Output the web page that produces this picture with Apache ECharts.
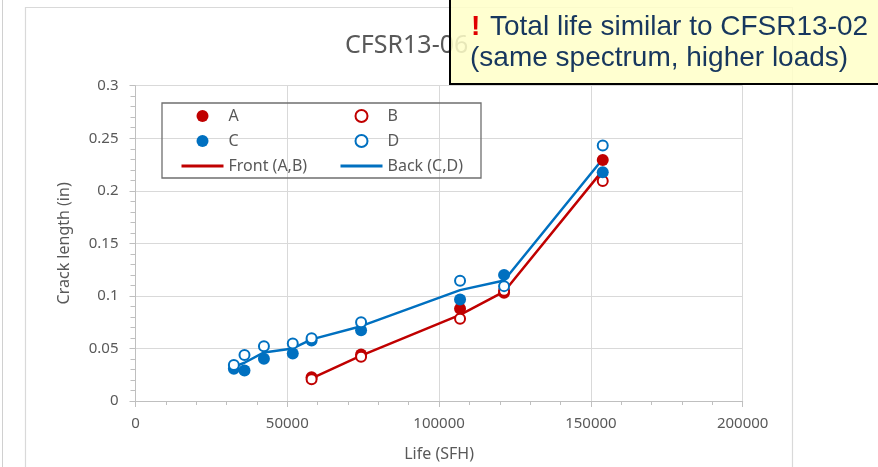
<!DOCTYPE html>
<html>
<head>
<meta charset="utf-8" />
<title>CFSR13-06</title>
<script src="https://cdn.jsdelivr.net/npm/echarts@6/dist/echarts.min.js"></script>
<style>
  html, body { margin: 0; padding: 0; background: #fff; }
  #main { width: 878px; height: 467px; }
</style>
</head>
<body>
<div id="main"></div>
<script>
// values
var lifeAB = [58000, 74300, 106900, 121400, 153900];
var crackA = [0.0225, 0.0443, 0.0877, 0.1030, 0.2294];
var crackB = [0.0207, 0.0421, 0.0782, 0.1050, 0.2094];
var lifeCD = [32400, 35900, 42300, 51800, 58000, 74300, 106900, 121400, 153900];
var crackC = [0.0307, 0.0291, 0.0402, 0.0453, 0.0575, 0.0674, 0.0965, 0.1200, 0.2177];
var crackD = [0.0342, 0.0437, 0.0522, 0.0548, 0.0598, 0.0750, 0.1145, 0.1093, 0.2430];
var frontLine = [0.0216, 0.0432, 0.0820, 0.1040, 0.2194];
var backLine = [0.0325, 0.0364, 0.0462, 0.0500, 0.0586, 0.0712, 0.1055, 0.1147, 0.2303];

var RED = '#C00000';
var BLUE = '#0070C0';
var FONT = 'Noto Sans';

function pairs(xs, ys) {
  var out = [];
  for (var i = 0; i < xs.length; i++) out.push([xs[i], ys[i]]);
  return out;
}

function dots(name, xs, ys, color, hollow) {
  return {
    name: name,
    type: 'scatter',
    z: 3,
    symbol: 'circle',
    symbolSize: hollow ? 10 : 12,
    itemStyle: hollow
      ? { color: '#fff', borderColor: color, borderWidth: 2, opacity: 1 }
      : { color: color, opacity: 1 },
    data: pairs(xs, ys)
  };
}

function trend(name, xs, ys, color) {
  return {
    name: name,
    type: 'line',
    z: 2,
    symbol: 'none',
    lineStyle: { color: color, width: 2.5 },
    itemStyle: { color: color },
    data: pairs(xs, ys)
  };
}

var myChart = echarts.init(document.getElementById('main'));
var legendBase = {
  orient: 'vertical',
  top: 108,
  padding: 0,
  itemWidth: 42,
  itemHeight: 12,
  itemGap: 9,
  symbolKeepAspect: true,
  textStyle: { color: '#595959', fontSize: 16, fontFamily: FONT, lineHeight: 16 }
};
var noDot = { opacity: 0 };

var option = {
  animation: false,
  textStyle: { fontFamily: FONT },
  title: {
    text: 'CFSR13-06',
    left: 345,
    top: 33,
    padding: 0,
    textStyle: { color: '#595959', fontSize: 25, fontWeight: 'normal', fontFamily: FONT }
  },
  legend: [
    Object.assign({}, legendBase, { left: 180, data: ['A', 'C', { name: 'Front (A,B)', itemStyle: noDot, lineStyle: { width: 3 } }] }),
    Object.assign({}, legendBase, { left: 339, data: ['B', 'D', { name: 'Back (C,D)', itemStyle: noDot, lineStyle: { width: 3 } }] })
  ],
  grid: { left: 135.5, top: 85.7, right: 135.3, bottom: 65.3 },
  xAxis: {
    type: 'value',
    min: 0,
    max: 200000,
    interval: 50000,
    name: 'Life (SFH)',
    nameLocation: 'middle',
    nameGap: 45,
    nameTextStyle: { color: '#595959', fontSize: 16, fontFamily: FONT },
    axisLine: { show: true, lineStyle: { color: '#BFBFBF', width: 1 } },
    axisTick: { show: true, length: 6, lineStyle: { color: '#BFBFBF' } },
    minorTick: { show: true, splitNumber: 5, length: 4, lineStyle: { color: '#BFBFBF' } },
    splitLine: { show: true, lineStyle: { color: '#D9D9D9', width: 1 } },
    axisLabel: {
      color: '#595959', fontSize: 15, margin: 15, fontFamily: FONT,
      formatter: function (v) { return String(v); }
    }
  },
  yAxis: {
    type: 'value',
    min: 0,
    max: 0.3,
    interval: 0.05,
    name: 'Crack length (in)',
    nameLocation: 'middle',
    nameGap: 63,
    nameTextStyle: { color: '#595959', fontSize: 16, fontFamily: FONT },
    axisLine: { show: true, lineStyle: { color: '#BFBFBF', width: 1 } },
    axisTick: { show: true, length: 6, lineStyle: { color: '#BFBFBF' } },
    minorTick: { show: true, splitNumber: 5, length: 5, lineStyle: { color: '#BFBFBF' } },
    splitLine: { show: true, lineStyle: { color: '#D9D9D9', width: 1 } },
    axisLabel: { color: '#595959', fontSize: 15, margin: 17, fontFamily: FONT }
  },
  graphic: [
    // slide edge and chart frame
    { type: 'line', shape: { x1: 2.5, y1: 0, x2: 2.5, y2: 467 }, style: { stroke: '#D0D0D0', lineWidth: 1 }, z: 1 },
    { type: 'rect', shape: { x: 25.5, y: 7.5, width: 767, height: 470 }, style: { fill: 'none', stroke: '#D9D9D9', lineWidth: 1.2 }, z: 1 },
    // legend frame
    { type: 'rect', shape: { x: 162, y: 103, width: 319, height: 75 }, style: { fill: 'none', stroke: '#6f6f6f', lineWidth: 1.3 }, z: 5 },
    // callout
    { type: 'rect', shape: { x: 450, y: -2, width: 440, height: 86 }, style: { fill: 'rgba(255,255,200,0.86)', stroke: '#000', lineWidth: 2 }, z: 50 },
    { type: 'text', x: 471, y: 27, z: 51, style: { text: '!', fill: '#E00000', fontSize: 28, fontWeight: 'bold', fontFamily: 'Liberation Sans', verticalAlign: 'middle' } },
    { type: 'text', x: 490, y: 27, z: 51, style: { text: 'Total life similar to CFSR13-02', fill: '#17375E', fontSize: 28, fontFamily: 'Liberation Sans', verticalAlign: 'middle' } },
    { type: 'text', x: 470, y: 58, z: 51, style: { text: '(same spectrum, higher loads)', fill: '#17375E', fontSize: 28, fontFamily: 'Liberation Sans', verticalAlign: 'middle' } }
  ],
  series: [
    trend('Front (A,B)', lifeAB, frontLine, RED),
    trend('Back (C,D)', lifeCD, backLine, BLUE),
    dots('A', lifeAB, crackA, RED, false),
    dots('B', lifeAB, crackB, RED, true),
    dots('C', lifeCD, crackC, BLUE, false),
    dots('D', lifeCD, crackD, BLUE, true)
  ]
};
myChart.setOption(option);
</script>
</body>
</html>
